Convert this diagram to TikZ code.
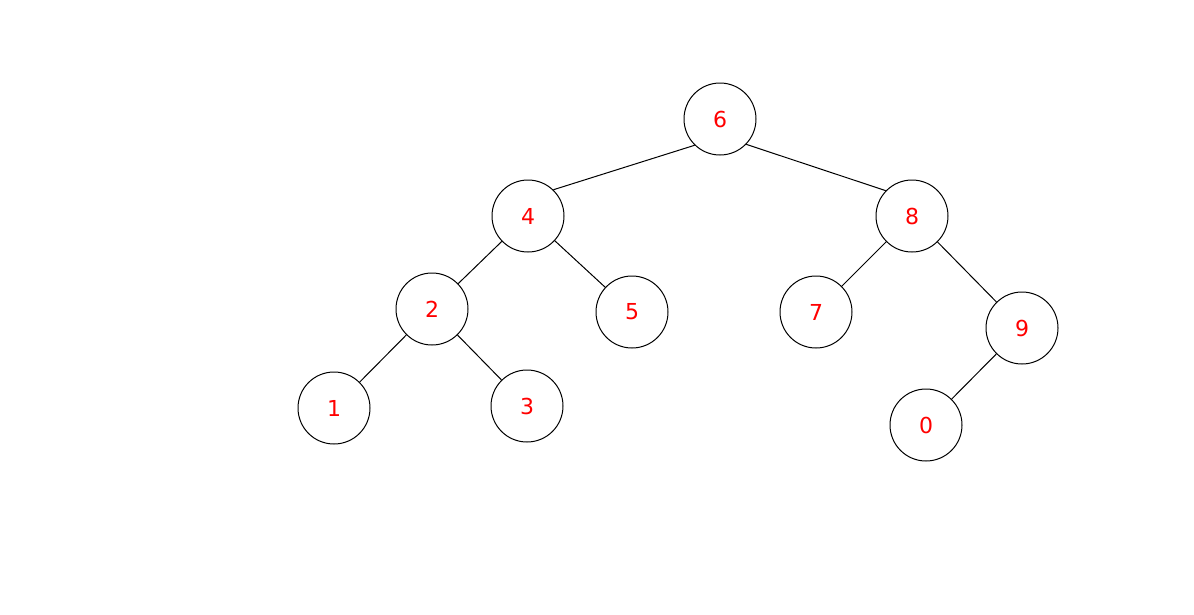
\documentclass[tikz,border=0pt]{standalone}
\usepackage{fontspec}
\setmainfont{DejaVu Sans}
\begin{document}
\begin{tikzpicture}[x=1pt,y=-1pt,
  nd/.style={circle,draw=black,line width=1pt,minimum size=72pt,inner sep=0pt,text=red,font=\fontsize{22}{24}\selectfont},
  ed/.style={draw=black,line width=1pt}]
\useasboundingbox (0,0) rectangle (1194,614);
\fill[white] (0,0) rectangle (1194,614);
\node[nd] (n6) at (720,119) {6};
\node[nd] (n4) at (528,216) {4};
\node[nd] (n8) at (912,216) {8};
\node[nd] (n2) at (432,309) {2};
\node[nd] (n5) at (632,312) {5};
\node[nd] (n7) at (816,312) {7};
\node[nd] (n9) at (1022,328) {9};
\node[nd] (n1) at (334,408) {1};
\node[nd] (n3) at (527,406) {3};
\node[nd] (n0) at (926,425) {0};
\draw[ed] (n6.226)--(n4.46); \draw[ed] (n6.-44)--(n8.136);
\draw[ed] (n4)--(n2); \draw[ed] (n4)--(n5);
\draw[ed] (n8)--(n7); \draw[ed] (n8)--(n9);
\draw[ed] (n2)--(n1); \draw[ed] (n2)--(n3);
\draw[ed] (n9)--(n0);
\end{tikzpicture}
\end{document}
